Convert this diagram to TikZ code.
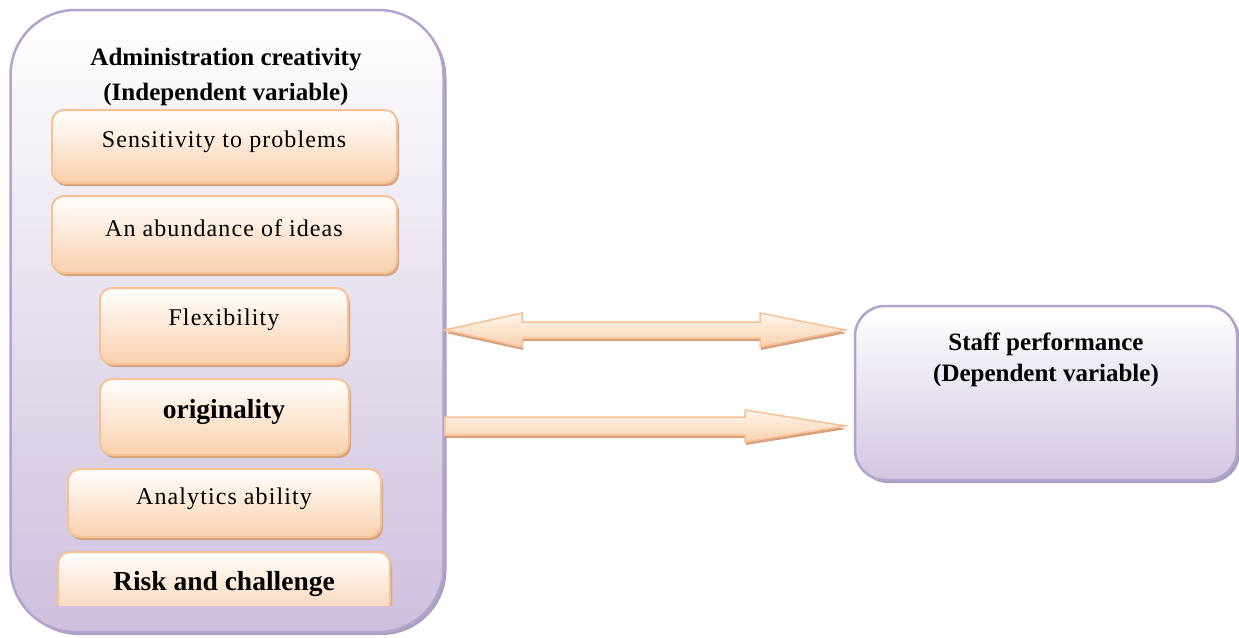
\documentclass[tikz,border=0pt]{standalone}
\usepackage{fontspec}
\setmainfont{Liberation Serif}
\newfontfamily\spacedserif[LetterSpace=4.5]{Liberation Serif}
\usetikzlibrary{shadows,calc}
\definecolor{purpB}{HTML}{B3A3CF}
\definecolor{purpF}{HTML}{CDBFDD}
\definecolor{orB}{HTML}{F7C196}
\definecolor{orF}{HTML}{F9D0AC}
\definecolor{orS}{HTML}{D6A27E}
\definecolor{purS}{HTML}{ABA0BC}
\begin{document}
\begin{tikzpicture}[x=1pt,y=-1pt,
  bigbox/.style={draw=purpB, line width=2.5pt, rounded corners=65pt, top color=white, bottom color=purpF, inner sep=0pt,
     drop shadow={shadow xshift=3pt, shadow yshift=-3pt, fill=purS, opacity=1}},
  rbox/.style={draw=purpB, line width=2.5pt, rounded corners=30pt, top color=white, bottom color=purpF!90!white, inner sep=0pt,
     drop shadow={shadow xshift=3pt, shadow yshift=-3pt, fill=purS, opacity=1}},
  obox/.style={draw=orB, line width=2pt, rounded corners=12pt, top color=white, bottom color=orF, inner sep=0pt,
     drop shadow={shadow xshift=2pt, shadow yshift=-3pt, fill=orS, opacity=1}},
  oarrow/.style={draw=orB, line width=1.5pt, top color=orF!20!white, bottom color=orF,
     drop shadow={shadow xshift=1pt, shadow yshift=-3pt, fill=orS, opacity=1}},
  titletxt/.style={font=\fontsize{25}{30}\selectfont\bfseries, inner sep=0pt},
  itemtxt/.style={font=\spacedserif\fontsize{24}{30}\selectfont, inner sep=0pt},
  bigtxt/.style={font=\fontsize{27.5}{30}\selectfont\bfseries, inner sep=0pt}
]
\useasboundingbox (0,0) rectangle (1239,637);

% left container
\node[bigbox, minimum width=433pt, minimum height=622pt] (left) at (227,321) {};
\node[titletxt] (t1) at (226,60) {Administration creativity};
\node[titletxt] (t2) at (226,94) {(Independent variable)};

% inner boxes
\node[obox, minimum width=345pt, minimum height=73pt] (b1) at (224.5,146.5) {};
\node[itemtxt] (l1) at (224,142) {Sensitivity to problems};
\node[obox, minimum width=345pt, minimum height=77pt] (b2) at (224.5,234.5) {};
\node[itemtxt] (l2) at (224,228) {An abundance of ideas};
\node[obox, minimum width=248pt, minimum height=76pt] (b3) at (224,326) {};
\node[itemtxt] (l3) at (224,320) {Flexibility};
\node[obox, minimum width=249pt, minimum height=76pt] (b4) at (224.5,417) {};
\node[bigtxt] (l4) at (224,412) {originality};
\node[obox, minimum width=313pt, minimum height=68pt] (b5) at (224.5,503) {};
\node[itemtxt] (l5) at (224,499) {Analytics ability};
\begin{scope}
  \clip (0,540) rectangle (1239,605);
  \node[obox, minimum width=332pt, minimum height=70pt] (b6) at (224,587) {};
\end{scope}
\node[bigtxt] (l6) at (224,584) {Risk and challenge};

% right box
\node[rbox, minimum width=382pt, minimum height=174pt] (right) at (1046,393) {};
\node[titletxt] (r1) at (1046,344) {Staff performance};
\node[titletxt] (r2) at (1046,375) {(Dependent variable)};

% arrows
\coordinate (dl) at (left.east |- 0,330);
\coordinate (dr) at ($(right.west |- 0,330)+(-8,0)$);
\coordinate (sl) at (left.east |- 0,426);
\coordinate (sr) at ($(right.west |- 0,426)+(-8,0)$);
\path[oarrow] (dl) -- (522,313) -- (522,322) -- (760,322) -- (760,313) -- (dr)
  -- (760,347) -- (760,338) -- (522,338) -- (522,347) -- cycle;
\path[oarrow] ($(sl)+(0,-9)$) -- (745,417) -- (745,410) -- (sr) -- (745,442) -- (745,435) -- ($(sl)+(0,9)$) -- cycle;
\end{tikzpicture}
\end{document}
